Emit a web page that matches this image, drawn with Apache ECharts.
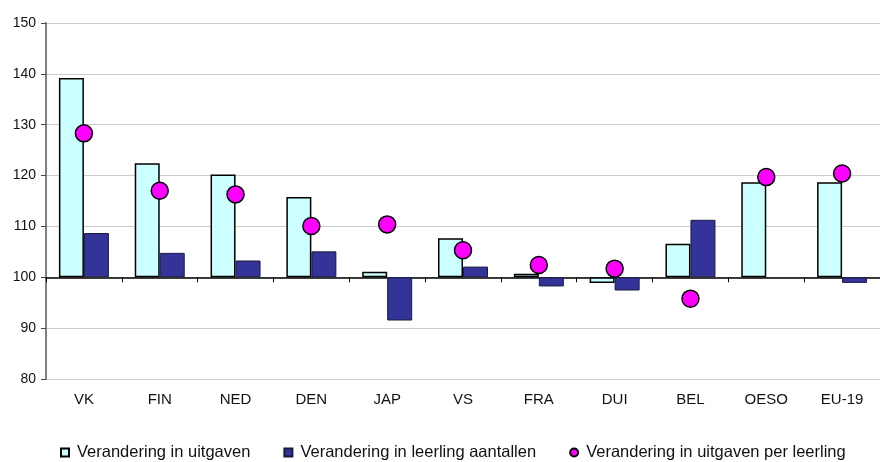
<!DOCTYPE html>
<html>
<head>
<meta charset="utf-8">
<script src="https://cdn.jsdelivr.net/npm/echarts@6/dist/echarts.min.js"></script>
<style>
  html, body { margin: 0; padding: 0; background: #fff; }
  #main { width: 880px; height: 462px; }
</style>
</head>
<body>
<div id="main"></div>
<script>
// data (index, 100 = basisjaar)
var landen = ['VK', 'FIN', 'NED', 'DEN', 'JAP', 'VS', 'FRA', 'DUI', 'BEL', 'OESO', 'EU-19'];
var uitgaven = [139.2, 122.4, 120.2, 115.8, 101.1, 107.7, 100.7, 98.9, 106.6, 118.7, 118.7];
var leerlingen = [108.7, 104.8, 103.3, 105.1, 91.5, 102.1, 98.2, 97.4, 111.3, null, 98.9];
var perLeerling = [128.3, 117.0, 116.3, 110.1, 110.4, 105.3, 102.4, 101.7, 95.8, 119.7, 120.4];

var BASIS = 100;
function tovBasis(arr) {
    return arr.map(function (v) { return v == null ? null : +(v - BASIS).toFixed(2); });
}

var font = 'Liberation Sans, Arial, sans-serif';
var myChart = echarts.init(document.getElementById('main'));

myChart.setOption({
    animation: false,
    grid: { left: 46, right: 0, top: 23, bottom: 83 },
    legend: {
        top: 444,
        left: 60,
        width: 860,
        padding: 0,
        itemWidth: 8,
        itemHeight: 8,
        itemGap: 33,
        textStyle: { fontFamily: font, fontSize: 16.5, color: '#111', padding: [0, 0, 0, 3] },
        data: [
            { name: 'Verandering in uitgaven', icon: 'rect' },
            { name: 'Verandering in leerling aantallen', icon: 'rect' },
            { name: 'Verandering in uitgaven per leerling', icon: 'circle' }
        ]
    },
    xAxis: [
        {
            type: 'category',
            data: landen,
            axisLine: { onZero: true, lineStyle: { color: '#000', width: 1.5 } },
            axisTick: { show: true, length: 5, lineStyle: { color: '#000' } },
            axisLabel: { show: false },
            splitLine: { show: false }
        },
        {
            type: 'category',
            data: landen,
            position: 'bottom',
            axisLine: { show: false, onZero: false },
            axisTick: { show: false },
            axisLabel: { margin: 13, fontFamily: font, fontSize: 15, color: '#111' }
        }
    ],
    yAxis: {
        type: 'value',
        min: -20,
        max: 50,
        interval: 10,
        axisLine: { show: true, lineStyle: { color: '#808080', width: 2 } },
        axisTick: { show: true, length: 5, lineStyle: { color: '#444' } },
        axisLabel: {
            margin: 10,
            fontFamily: font,
            fontSize: 14,
            color: '#111',
            formatter: function (v) { return v + BASIS; }
        },
        splitLine: { lineStyle: { color: '#cccccc', width: 1 } }
    },
    series: [
        {
            name: 'Verandering in uitgaven',
            type: 'bar',
            xAxisIndex: 0,
            barWidth: 25,
            barGap: '0%',
            data: tovBasis(uitgaven),
            itemStyle: { color: '#ccffff', borderColor: '#000', borderWidth: 1.5 }
        },
        {
            name: 'Verandering in leerling aantallen',
            type: 'bar',
            xAxisIndex: 0,
            barWidth: 25,
            barGap: '0%',
            data: tovBasis(leerlingen),
            itemStyle: { color: '#333399', borderColor: '#1a1a40', borderWidth: 1 }
        },
        {
            name: 'Verandering in uitgaven per leerling',
            type: 'scatter',
            xAxisIndex: 0,
            symbol: 'circle',
            symbolSize: 17,
            z: 5,
            data: tovBasis(perLeerling),
            itemStyle: { color: '#ff00ff', borderColor: '#000', borderWidth: 1.5, opacity: 1 }
        }
    ]
});
</script>
</body>
</html>
